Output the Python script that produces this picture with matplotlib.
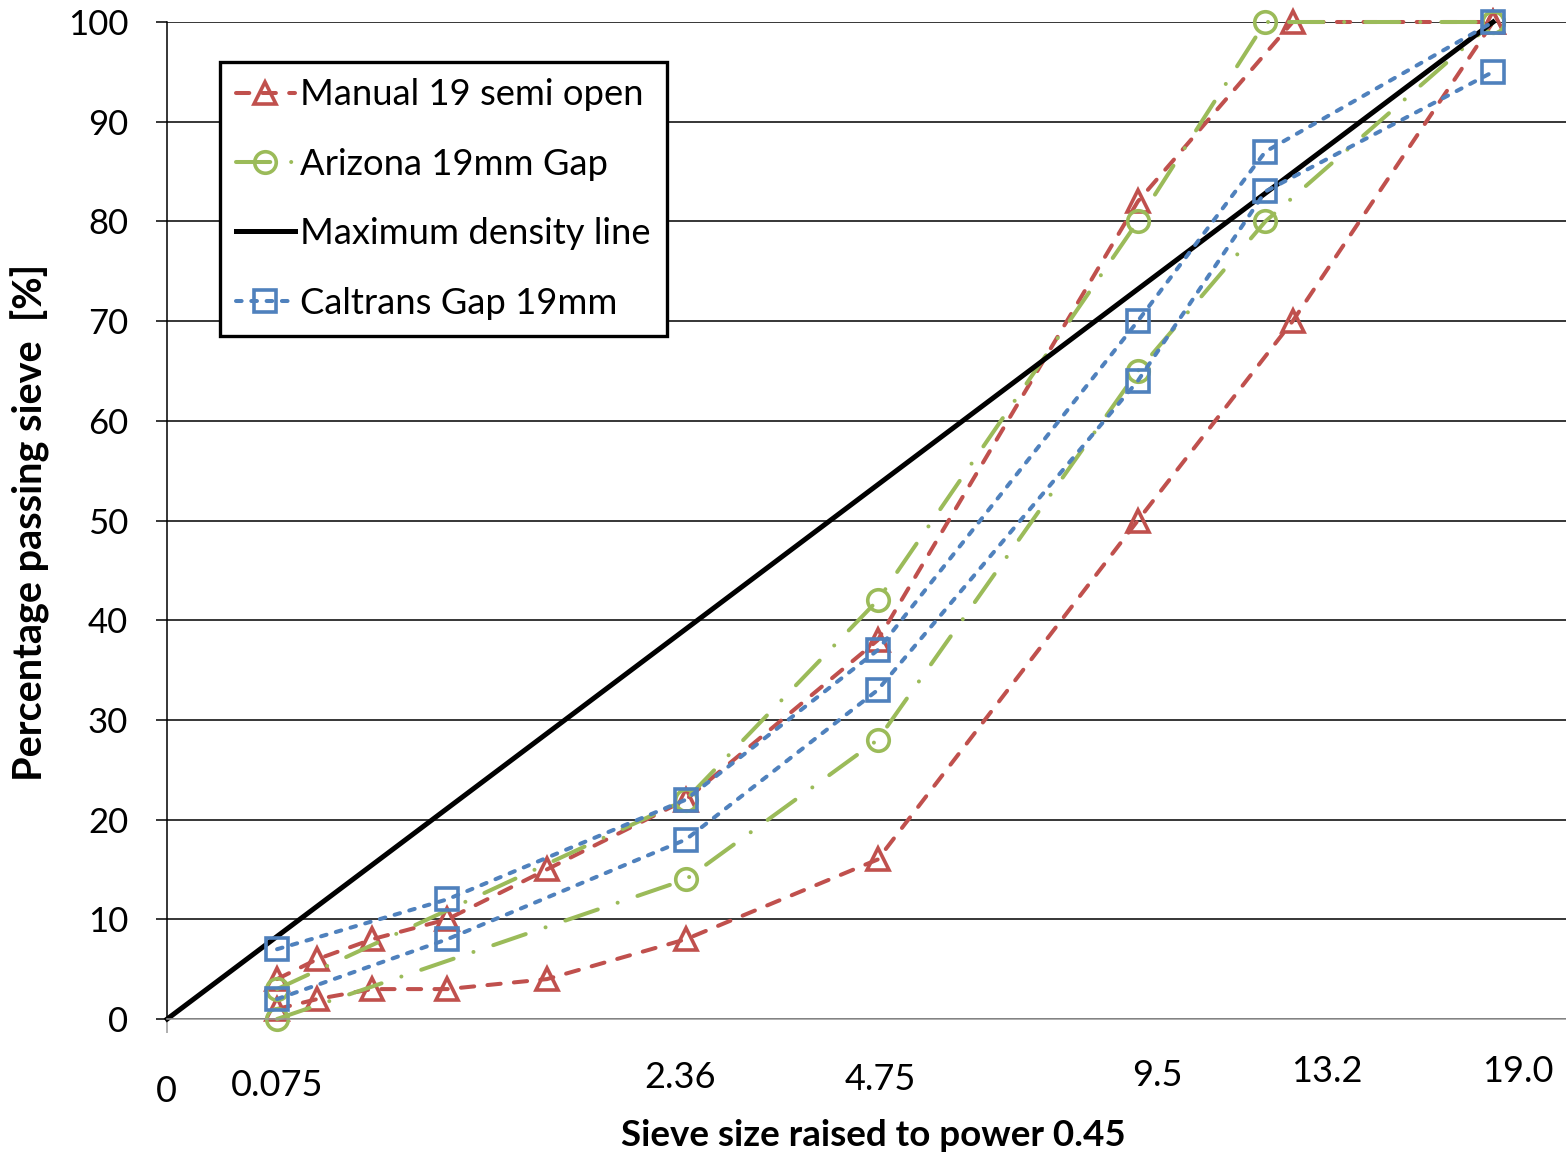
import numpy as np
import matplotlib
matplotlib.use("Agg")
import matplotlib.pyplot as plt

plt.rcParams['font.family'] = ['Lato', 'DejaVu Sans']

# 筛孔尺寸 (mm) 与通过率 (%)
sieves_manual = [0.075, 0.15, 0.3, 0.6, 1.18, 2.36, 4.75, 9.5, 13.2, 19.0]
manual_upper = [4, 6, 8, 10, 15, 22, 38, 82, 100, 100]
manual_lower = [1, 2, 3, 3, 4, 8, 16, 50, 70, 100]

sieves_arizona = [0.075, 2.36, 4.75, 9.5, 12.5, 19.0]
arizona_upper = [3, 22, 42, 80, 100, 100]
arizona_lower = [0, 14, 28, 65, 80, 100]

sieves_caltrans = [0.075, 0.6, 2.36, 4.75, 9.5, 12.5, 19.0]
caltrans_upper = [7, 12, 22, 37, 70, 87, 100]
caltrans_lower = [2, 8, 18, 33, 64, 83, 95]

sieves_mdl = [0.0, 19.0]
mdl_passing = [0, 100]

tick_sieves = [0.0, 0.075, 2.36, 4.75, 9.5, 13.2, 19.0]
tick_labels = ["0", "0.075", "2.36", "4.75", "9.5", "13.2", "19.0"]
# 标签偏移 (像素)
tick_offsets = [(-1, -73), (0, -66), (-6, -59), (3, -61), (20, -57), (34, -53), (25, -52)]

POWER = 0.45
RED = "#C0504D"
GREEN = "#9BBB59"
BLUE = "#4F81BD"


def px(s):
    return np.power(np.asarray(s, dtype=float), POWER)


fig = plt.figure(figsize=(15.66, 11.54), dpi=100)
ax = fig.add_axes([167.2 / 1566, 1 - 1019 / 1154, 1 - 167.2 / 1566, (1019 - 22) / 1154])

lw = 2.9
red_kw = dict(color=RED, lw=lw, dashes=(3.3, 3.3), dash_capstyle="round",
              marker="^", ms=16, mfc="none", mec=RED, mew=2.6)
green_kw = dict(color=GREEN, lw=lw, dashes=(8.5, 5.2, 0.01, 5.2), dash_capstyle="round",
                marker="o", ms=15.5, mfc="none", mec=GREEN, mew=2.6)
blue_kw = dict(color=BLUE, lw=lw, dashes=(1.4, 2.4), dash_capstyle="round",
               marker="s", ms=15.5, mfc="none", mec=BLUE, mew=2.6)

h1, = ax.plot(px(sieves_manual), manual_upper, label="Manual 19 semi open", **red_kw)
ax.plot(px(sieves_manual), manual_lower, **red_kw)
h2, = ax.plot(px(sieves_arizona), arizona_upper, label="Arizona 19mm Gap", **green_kw)
ax.plot(px(sieves_arizona), arizona_lower, **green_kw)
h3, = ax.plot(px(sieves_mdl), mdl_passing, color="black", lw=3.6,
              label="Maximum density line")
h4, = ax.plot(px(sieves_caltrans), caltrans_upper, label="Caltrans Gap 19mm", **blue_kw)
ax.plot(px(sieves_caltrans), caltrans_lower, **blue_kw)

for l in ax.lines:
    l.set_clip_on(False)

ax.set_xlim(0, 3.969)
ax.set_ylim(0, 100)
ax.set_yticks(np.arange(0, 101, 10))
ax.tick_params(axis="y", labelsize=25, length=8, width=1.1, color="black", pad=20)
ax.set_xticks([0])
ax.set_xticklabels([""])
ax.tick_params(axis="x", length=10, width=1.1, color="#999999")
ax.grid(axis="y", color="black", lw=1.1)
ax.set_axisbelow(True)
for s in ["top", "right"]:
    ax.spines[s].set_visible(False)
ax.spines["left"].set_linewidth(1.1)
ax.spines["bottom"].set_color("#999999")
ax.spines["bottom"].set_linewidth(1.1)
ax.spines["bottom"].set_zorder(3)

for s, lab, (dx, dy) in zip(tick_sieves, tick_labels, tick_offsets):
    ax.annotate(lab, xy=(px(s), 0), xycoords="data", xytext=(dx, dy),
                textcoords="offset pixels", ha="center", va="center",
                fontsize=26, annotation_clip=False)

fig.text(30 / 1566, 1 - 522 / 1154, "Percentage passing sieve  [%]", rotation=90,
         ha="center", va="center", fontsize=28.5, fontweight="bold")
fig.text(873 / 1566, 1 - 1135 / 1154, "Sieve size raised to power 0.45",
         ha="center", va="center", fontsize=26.5, fontweight="bold")

leg = ax.legend(handles=[h1, h2, h3, h4], loc="upper left",
                bbox_to_anchor=(220 / 1566, 1 - 62 / 1154), bbox_transform=fig.transFigure,
                fontsize=26.2, frameon=True, fancybox=False, framealpha=1,
                borderaxespad=0, handlelength=1.6, handletextpad=0.15,
                labelspacing=1.0, borderpad=0.45)
leg.get_frame().set_edgecolor("black")
leg.get_frame().set_linewidth(2.4)

fig.savefig("out.png", dpi=100)
